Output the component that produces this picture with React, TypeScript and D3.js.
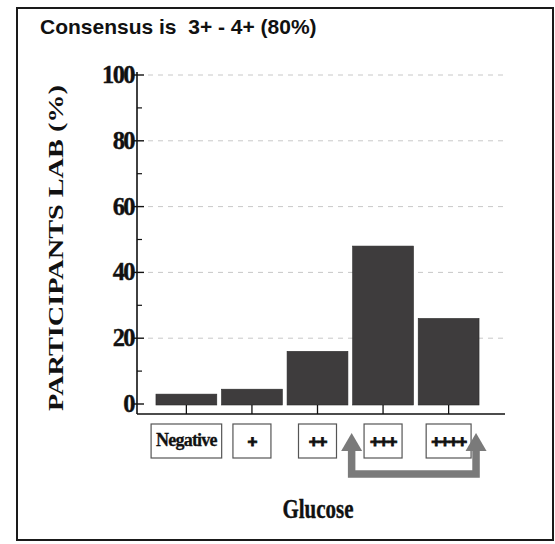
import React, { useEffect, useRef } from "react";
import * as d3 from "d3";

const categories = ["Negative", "+", "++", "+++", "++++"];
const values = [3, 4.5, 16, 48, 26];
const yTicks = [0, 20, 40, 60, 80, 100];
const yMinorTicks = [10, 30, 50, 70, 90];
const gridValues = [20, 40, 60, 80, 100];
const titleText = "Consensus is  3+ - 4+ (80%)";
const yLabelText = "PARTICIPANTS LAB (%)";
const xLabelText = "Glucose";

const W = 555;
const H = 544;

export default function App() {
  const ref = useRef<SVGSVGElement>(null);

  useEffect(() => {
    const svg = d3.select(ref.current);
    svg.selectAll("*").remove();

    const y = d3.scaleLinear().domain([0, 100]).range([404, 75]);
    const x = d3
      .scaleBand<string>()
      .domain(categories)
      .range([153.6, 481.4])
      .paddingInner(0.072)
      .paddingOuter(0.036);

    const axisX = 137;
    const axisY = 414;
    const serif = "'Liberation Serif', 'Times New Roman', serif";

    svg.append("rect").attr("width", W).attr("height", H).attr("fill", "#ffffff");

    // frame
    svg
      .append("rect")
      .attr("x", 17)
      .attr("y", 8)
      .attr("width", 536)
      .attr("height", 532)
      .attr("fill", "none")
      .attr("stroke", "#1a1a1a")
      .attr("stroke-width", 2);

    // title
    svg
      .append("text")
      .attr("x", 40)
      .attr("y", 34)
      .attr("font-family", "'Liberation Sans', Arial, sans-serif")
      .attr("font-weight", "bold")
      .attr("font-size", 21)
      .attr("fill", "#111")
      .style("white-space", "pre")
      .text(titleText);

    // gridlines
    svg
      .append("g")
      .selectAll("line")
      .data(gridValues)
      .join("line")
      .attr("x1", 148)
      .attr("x2", 505)
      .attr("y1", (d) => y(d))
      .attr("y2", (d) => y(d))
      .attr("stroke", "#c8c8c8")
      .attr("stroke-width", 1)
      .attr("stroke-dasharray", "5,5");

    // bars
    svg
      .append("g")
      .selectAll("rect")
      .data(values)
      .join("rect")
      .attr("x", (_, i) => x(categories[i])!)
      .attr("width", x.bandwidth())
      .attr("y", (d) => y(d))
      .attr("height", (d) => y(0) - y(d) + 1)
      .attr("fill", "#3e3c3d")
      .attr("stroke", "#2a2a2a")
      .attr("stroke-width", 0.6);

    // y axis line
    svg
      .append("line")
      .attr("x1", axisX)
      .attr("x2", axisX)
      .attr("y1", y(100) - 3)
      .attr("y2", axisY)
      .attr("stroke", "#111")
      .attr("stroke-width", 1.6);

    // major ticks
    svg
      .append("g")
      .selectAll("line")
      .data(yTicks)
      .join("line")
      .attr("x1", axisX - 4)
      .attr("x2", axisX + 7)
      .attr("y1", (d) => y(d))
      .attr("y2", (d) => y(d))
      .attr("stroke", "#111")
      .attr("stroke-width", 1.4);

    // minor ticks
    svg
      .append("g")
      .selectAll("line")
      .data(yMinorTicks)
      .join("line")
      .attr("x1", axisX)
      .attr("x2", axisX + 5)
      .attr("y1", (d) => y(d))
      .attr("y2", (d) => y(d))
      .attr("stroke", "#111")
      .attr("stroke-width", 1.2);

    // tick labels
    svg
      .append("g")
      .selectAll("text")
      .data(yTicks)
      .join("text")
      .attr("x", axisX - 3)
      .attr("y", (d) => y(d) + 8)
      .attr("text-anchor", "end")
      .attr("font-family", serif)
      .attr("font-weight", "bold")
      .attr("font-size", 24.5)
      .attr("letter-spacing", -1.6)
      .attr("stroke", "#111")
      .attr("stroke-width", 0.4)
      .attr("fill", "#111")
      .text((d) => String(d));

    // y label
    svg
      .append("text")
      .attr("transform", `translate(63,248) rotate(-90)`)
      .attr("text-anchor", "middle")
      .attr("font-family", serif)
      .attr("font-weight", "bold")
      .attr("font-size", 21)
      .attr("fill", "#111")
      .attr("textLength", 326)
      .attr("lengthAdjust", "spacingAndGlyphs")
      .text(yLabelText);

    // x axis line
    svg
      .append("line")
      .attr("x1", axisX)
      .attr("x2", 505)
      .attr("y1", axisY)
      .attr("y2", axisY)
      .attr("stroke", "#111")
      .attr("stroke-width", 1.6);

    // x ticks
    svg
      .append("g")
      .selectAll("line")
      .data(categories)
      .join("line")
      .attr("x1", (d) => x(d)! + x.bandwidth() / 2)
      .attr("x2", (d) => x(d)! + x.bandwidth() / 2)
      .attr("y1", y(0) + 1)
      .attr("y2", axisY)
      .attr("stroke", "#111")
      .attr("stroke-width", 1.3);

    // category boxes
    const cat = svg
      .append("g")
      .selectAll("g")
      .data(categories)
      .join("g")
      .attr("transform", (d) => `translate(${x(d)! + x.bandwidth() / 2},0)`);
    const texts = cat
      .append("text")
      .attr("x", 0)
      .attr("y", (d) => (d === "Negative" ? 446 : 447))
      .attr("text-anchor", "middle")
      .attr("font-family", (d) =>
        d === "Negative" ? serif : "'Liberation Sans', Arial, sans-serif"
      )
      .attr("font-weight", "bold")
      .attr("font-size", (d) => (d === "Negative" ? 18 : 17))
      .attr("letter-spacing", (d) => (d === "Negative" ? -0.8 : -1.2))
      .attr("stroke", "#111")
      .attr("stroke-width", (d) => (d === "Negative" ? 0.3 : 0.9))
      .attr("fill", "#111")
      .text((d) => d);
    const widths: number[] = [];
    texts.each(function () {
      widths.push((this as SVGTextElement).getComputedTextLength());
    });
    cat
      .insert("rect", "text")
      .attr("x", (_, i) => -Math.max(38, widths[i] + 10) / 2)
      .attr("width", (_, i) => Math.max(38, widths[i] + 10))
      .attr("y", 424)
      .attr("height", 34)
      .attr("fill", "#fff")
      .attr("stroke", "#555")
      .attr("stroke-width", 1.2);

    // arrow bracket
    const lx = x(categories[3])! - 1;
    const rx = x(categories[4])! + x.bandwidth() - 3;
    const tipY = 433;
    const baseY = 451;
    const barY = 474;
    const grey = "#7a7a7a";
    svg
      .append("path")
      .attr("d", `M${lx},${baseY - 1} L${lx},${barY} L${rx},${barY} L${rx},${baseY - 1}`)
      .attr("fill", "none")
      .attr("stroke", grey)
      .attr("stroke-width", 7.5)
      .attr("stroke-linejoin", "miter");
    const head = (cx: number) =>
      `M${cx},${tipY} L${cx + 10.5},${baseY} L${cx - 10.5},${baseY} Z`;
    svg.append("path").attr("d", head(lx)).attr("fill", grey);
    svg.append("path").attr("d", head(rx)).attr("fill", grey);

    // x label
    svg
      .append("text")
      .attr("x", 318)
      .attr("y", 518)
      .attr("text-anchor", "middle")
      .attr("font-family", serif)
      .attr("font-weight", "bold")
      .attr("font-size", 27)
      .attr("fill", "#111")
      .attr("stroke", "#111")
      .attr("stroke-width", 0.4)
      .attr("textLength", 71)
      .attr("lengthAdjust", "spacingAndGlyphs")
      .text(xLabelText);
  }, []);

  return (
    <svg
      ref={ref}
      width={W}
      height={H}
      style={{ position: "absolute", left: 0, top: 0, display: "block" }}
    />
  );
}
